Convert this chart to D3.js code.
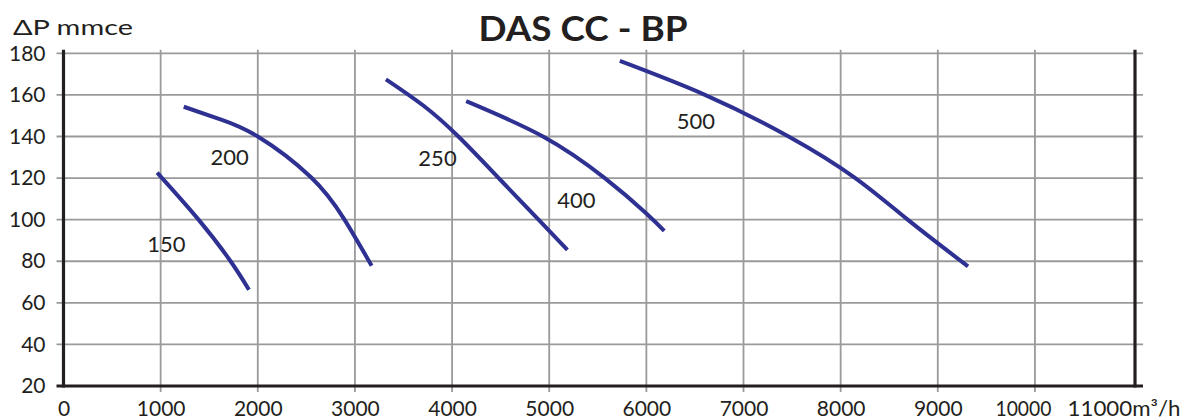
<!DOCTYPE html>
<html>
<head>
<meta charset="utf-8">
<script src="https://cdn.jsdelivr.net/npm/d3@7"></script>
<style>
  body { margin: 0; background: #fff; }
  svg { display: block; }
  text { font-family: Lato, "Open Sans", sans-serif; fill: #231f20; }
</style>
</head>
<body>
<svg id="chart" width="1181" height="419"></svg>
<script>
// ---- data ----
const xTicks = [0, 1000, 2000, 3000, 4000, 5000, 6000, 7000, 8000, 9000, 10000, 11000];
const yTicks = [20, 40, 60, 80, 100, 120, 140, 160, 180];
const seriesNames = ["150", "200", "250", "400", "500"];
const s150 = [[964, 122.6], [1390, 100], [1720, 80], [1909, 66.3]];
const s200 = [[1238, 154.3], [1600, 148.5], [2000, 140], [2545, 120.5], [2886, 100.5], [3172, 77.8]];
const s250 = [[3319, 167.5], [3700, 155], [4065, 140], [4480, 120], [4890, 100], [5187, 85.5]];
const s400 = [[4145, 157], [4936, 140], [5572, 120], [6000, 103], [6184, 94.6]];
const s500 = [[5727, 176.3], [6603, 160], [7464, 140], [8151, 120], [8690, 100], [9311, 77.5]];
// label anchor points (data coords) for series names
const labelPos = [[1060, 84.5], [1710, 126.5], [3850, 126], [5280, 105.5], [6510, 143.5]];
const title = "DAS CC - BP";
const yTitle = "ΔP mmce";
const xUnit = "m³/h";

const series = [s150, s200, s250, s400, s500];

// ---- layout ----
const svg = d3.select("#chart");
const x = d3.scaleLinear().domain([0, 11030]).range([63.5, 1135]);
const y = d3.scaleLinear().domain([20, 180]).range([386, 53.3]);

const gridColor = "#9a9a9c";
const axisColor = "#231f20";
const lineColor = "#2e3192";

// grid
const grid = svg.append("g");
grid.selectAll("line.h").data(yTicks.filter(d => d > 20)).join("line")
  .attr("x1", x(0) - 7).attr("x2", x.range()[1] + 8)
  .attr("y1", d => y(d)).attr("y2", d => y(d))
  .attr("stroke", gridColor).attr("stroke-width", 1.8);
grid.selectAll("line.v").data(xTicks.filter(d => d > 0 && d < 11000)).join("line")
  .attr("x1", d => x(d)).attr("x2", d => x(d))
  .attr("y1", y(180) - 3.5).attr("y2", y(20) + 6)
  .attr("stroke", gridColor).attr("stroke-width", 1.8);

// axes lines
svg.append("line").attr("x1", x(0)).attr("x2", x(0)).attr("y1", y(180) - 3.5).attr("y2", y(20) + 1.5)
  .attr("stroke", axisColor).attr("stroke-width", 3.2);
svg.append("line").attr("x1", x.range()[1]).attr("x2", x.range()[1]).attr("y1", y(180) - 3.5).attr("y2", y(20) + 1.5)
  .attr("stroke", axisColor).attr("stroke-width", 3.2);
svg.append("line").attr("x1", x(0) - 7).attr("x2", x.range()[1] + 8).attr("y1", y(20)).attr("y2", y(20))
  .attr("stroke", axisColor).attr("stroke-width", 3.2);

// tick labels via axes
const yAxis = svg.append("g").attr("transform", `translate(${x(0)},0)`)
  .call(d3.axisLeft(y).tickValues(yTicks).tickSize(0).tickPadding(18).tickFormat(d3.format("d")));
yAxis.select(".domain").remove();
yAxis.selectAll("text").style("font-size", "21px").style("font-family", "Lato, sans-serif").attr("fill", axisColor);

const xAxis = svg.append("g").attr("transform", `translate(0,${y(20)})`)
  .call(d3.axisBottom(x).tickValues(xTicks).tickSize(0).tickPadding(15.5)
    .tickFormat(d => d === 11000 ? d + xUnit : String(d)));
xAxis.select(".domain").remove();
xAxis.selectAll("text").style("font-size", "21px").style("font-family", "Lato, sans-serif").attr("fill", axisColor);
xAxis.selectAll(".tick").filter(d => d === 10000).select("text")
  .attr("x", -12).attr("textLength", 56).attr("lengthAdjust", "spacingAndGlyphs");
xAxis.selectAll(".tick").filter(d => d === 11000).select("text")
  .attr("text-anchor", "end").attr("x", 1180 - x(11000))
  .attr("textLength", 113).attr("lengthAdjust", "spacingAndGlyphs");

// titles
svg.append("text").attr("x", 583).attr("y", 40.7).attr("text-anchor", "middle")
  .style("font-size", "34px").style("font-weight", "bold")
  .attr("textLength", 209).attr("lengthAdjust", "spacingAndGlyphs").text(title);
svg.append("text").attr("x", 13).attr("y", 35).style("font-size", "21px")
  .attr("textLength", 120).attr("lengthAdjust", "spacingAndGlyphs").text(yTitle);

// curves
const line = d3.line().x(d => x(d[0])).y(d => y(d[1])).curve(d3.curveNatural);
svg.append("g").selectAll("path").data(series).join("path")
  .attr("d", line).attr("fill", "none").attr("stroke", lineColor)
  .attr("stroke-width", 4).attr("stroke-linecap", "butt");

// series labels
svg.append("g").selectAll("text").data(seriesNames).join("text")
  .attr("x", (d, i) => x(labelPos[i][0])).attr("y", (d, i) => y(labelPos[i][1]))
  .attr("text-anchor", "middle").style("font-size", "22px").text(d => d);
</script>
</body>
</html>
